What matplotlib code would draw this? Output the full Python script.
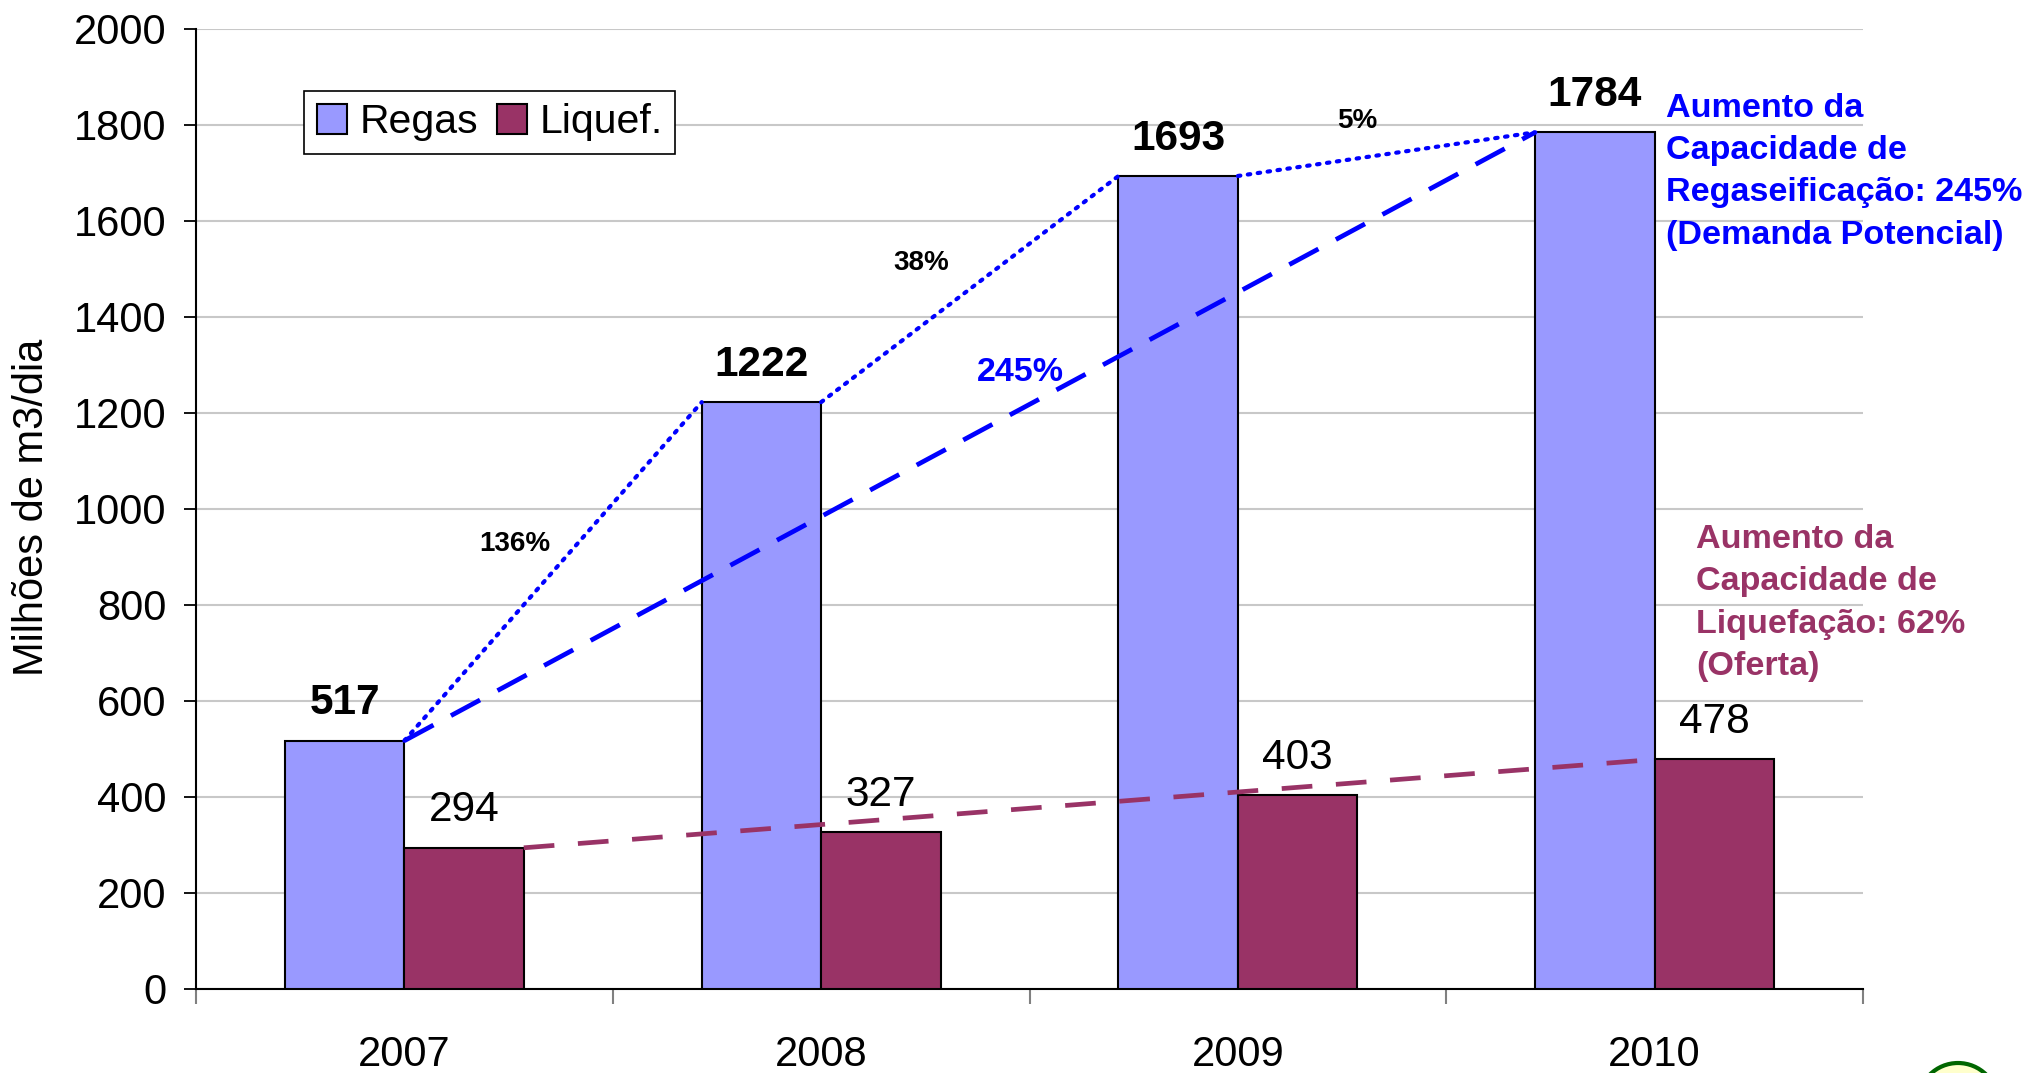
import matplotlib
matplotlib.use("Agg")
import matplotlib.pyplot as plt
from matplotlib.patches import Ellipse
import numpy as np

plt.rcParams['font.family'] = ['Liberation Sans', 'DejaVu Sans']

years = ['2007', '2008', '2009', '2010']
regas = [517, 1222, 1693, 1784]
liquef = [294, 327, 403, 478]
pct_labels = ['136%', '38%', '5%']
pct_pos = [(0.265, 927), (1.239, 1511), (2.287, 1808)]
total_label = '245%'
total_pos = (1.478, 1284)
note_regas = "Aumento da\nCapacidade de\nRegaseificação: 245%\n(Demanda Potencial)"
note_liq = "Aumento da\nCapacidade de\nLiquefação: 62%\n(Oferta)"
ylabel = 'Milhões de m3/dia'
legend_labels = ['Regas', 'Liquef.']

c_regas = '#9999FF'
c_liq = '#993366'
c_blue = '#0000FF'

fig = plt.figure(figsize=(20.33, 10.73), dpi=100)
ax = fig.add_axes([0.0964, 0.0783, 0.82, 0.8951])

x = np.arange(len(years))
w = 0.2865
ax.bar(x - w/2, regas, w, color=c_regas, edgecolor='black', linewidth=1.5, zorder=3, label=legend_labels[0])
ax.bar(x + w/2, liquef, w, color=c_liq, edgecolor='black', linewidth=1.5, zorder=3, label=legend_labels[1])

ax.set_xlim(-0.5, 3.5)
ax.set_ylim(0, 2000)
ax.set_yticks(np.arange(0, 2001, 200))
ax.yaxis.grid(True, color='#c8c8c8', linewidth=1.5, zorder=0)
ax.set_axisbelow(True)
for s in ['top', 'right']:
    ax.spines[s].set_visible(False)
ax.spines['left'].set_linewidth(1.5)
ax.spines['bottom'].set_linewidth(1.5)

ax.set_xticks(np.arange(-0.5, 3.6, 1.0))
ax.set_xticklabels([])
ax.set_xticks(x, minor=True)
ax.set_xticklabels(years, minor=True)
ax.tick_params(axis='x', which='major', length=11, width=1.5, color='#808080')
ax.tick_params(axis='x', which='minor', length=0, pad=33, labelsize=30)
ax.tick_params(axis='y', length=9, width=1.3, pad=12, labelsize=30)

# value labels
for xi, v in zip(x, regas):
    ax.annotate(str(v), (xi - w/2, v), xytext=(0, 19), textcoords='offset points',
                ha='center', va='baseline', fontsize=30.5, fontweight='bold')
for xi, v in zip(x, liquef):
    ax.annotate(str(v), (xi + w/2, v), xytext=(0, 19), textcoords='offset points',
                ha='center', va='baseline', fontsize=30.5)

# dotted segments between Regas bar corners
for i in range(len(years) - 1):
    ax.plot([x[i], x[i + 1] - w], [regas[i], regas[i + 1]], color=c_blue, linewidth=3,
            linestyle=(0, (0.6, 1.8)), dash_capstyle='round', zorder=4)
# dashed overall lines
ax.plot([x[0], x[-1] - w], [regas[0], regas[-1]], color=c_blue, linewidth=3.4,
        linestyle=(0, (7, 4.2)), zorder=4)
ax.plot([x[0] + w, x[-1]], [liquef[0], liquef[-1]], color=c_liq, linewidth=3.4,
        linestyle=(0, (6.5, 5)), zorder=4)

for lab, (lx, ly) in zip(pct_labels, pct_pos):
    ax.text(lx, ly, lab, ha='center', va='center', fontsize=20, fontweight='bold')
ax.text(total_pos[0], total_pos[1], total_label, ha='center', va='center',
        fontsize=24.5, fontweight='bold', color=c_blue)

ax.text(3.027, 1866, note_regas, ha='left', va='top', fontsize=24.6, fontweight='bold',
        color=c_blue, linespacing=1.47, clip_on=False)
ax.text(3.099, 968, note_liq, ha='left', va='top', fontsize=24.6, fontweight='bold',
        color=c_liq, linespacing=1.47, clip_on=False)

leg = ax.legend(loc='upper left', bbox_to_anchor=(0.065, 0.935), borderaxespad=0,
                ncol=2, fontsize=29.5, frameon=True, fancybox=False, framealpha=1,
                edgecolor='black', handlelength=0.75, handleheight=0.75,
                handletextpad=0.3, columnspacing=0.45, borderpad=0.3)
leg.get_frame().set_linewidth(1.2)

fig.text(32/2033, 0.527, ylabel, rotation=90, ha='center', va='center', fontsize=30)

# partial logo at bottom right
r = 40
fig.add_artist(Ellipse((1958/2033, (1073-1103)/1073), 2*r/2033, 2*r/1073,
                       facecolor='#ffffcc', edgecolor='#006600', linewidth=3))

fig.savefig('out.png', dpi=100)
